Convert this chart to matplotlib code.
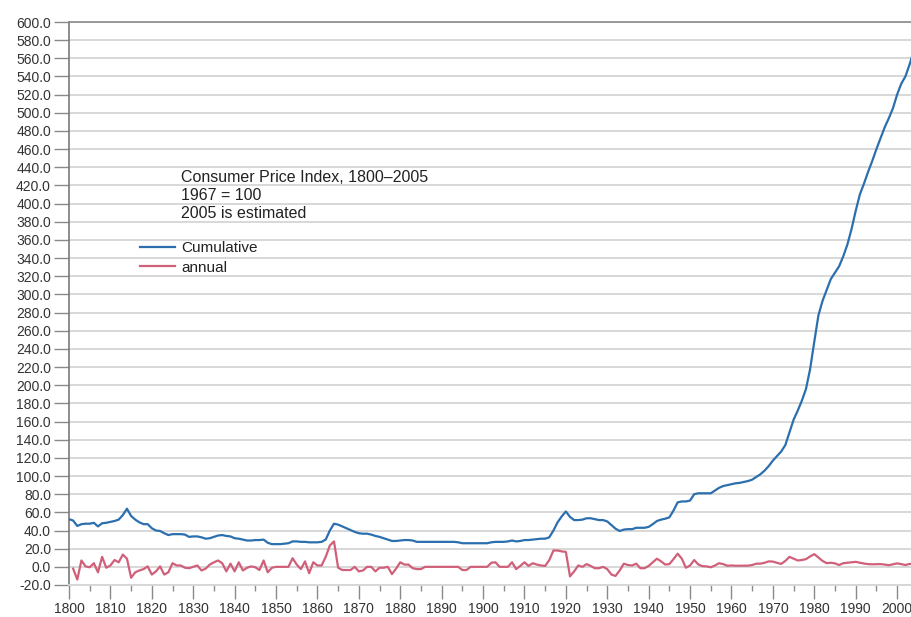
import matplotlib
matplotlib.use("Agg")
import matplotlib.pyplot as plt
from matplotlib.ticker import MultipleLocator, FuncFormatter

plt.rcParams['font.family'] = ['Liberation Sans', 'DejaVu Sans']
plt.rcParams['axes.unicode_minus'] = False

years = list(range(1800, 2006))
cumulative = [
    52.5, 51, 45, 47, 47.5, 47.5, 48.5, 44.5, 48, 48.5,          # 1800-1809
    49.5, 50.5, 52, 57, 64, 56, 52, 49, 47, 47,                  # 1810-1819
    42.5, 40, 39.5, 37, 35, 36, 36, 36, 35.5, 33,                # 1820-1829
    33.5, 33.5, 32.5, 31, 31.5, 33, 34.5, 35, 34, 33.5,          # 1830-1839
    31.5, 31, 30, 29, 29, 29.5, 29.5, 30, 26.5, 25,              # 1840-1849
    25, 25, 25.5, 26, 28, 28, 27.5, 27.5, 27, 27,                # 1850-1859
    27, 27.5, 30, 40, 47.5, 46.5, 44.5, 42.5, 40.5, 38.5,        # 1860-1869
    37, 36.5, 36.5, 35.5, 34, 33, 31.5, 30, 28.5, 28.5,          # 1870-1879
    29, 29.5, 29.5, 29, 27.5, 27.5, 27.5, 27.5, 27.5, 27.5,      # 1880-1889
    27.5, 27.5, 27.5, 27.5, 27, 26, 26, 26, 26, 26,              # 1890-1899
    26, 26, 27, 27.5, 27.5, 27.5, 28, 29, 28, 28.5,              # 1900-1909
    29.5, 29.5, 30, 30.5, 31, 31, 32.5, 40, 49, 55.5,            # 1910-1919
    61, 55, 51.5, 51.5, 52, 53.5, 53.5, 52.5, 51.5, 51.5,        # 1920-1929
    50, 46, 42, 39.5, 41, 41.5, 41.5, 43, 43, 43,                # 1930-1939
    44, 47, 50.5, 52, 53, 54.5, 62, 71, 72, 72,                  # 1940-1949
    73, 80, 81, 81, 81, 81, 84, 87, 89, 90,                      # 1950-1959
    91, 92, 92.5, 93.5, 94.5, 96, 99, 102, 106, 111,             # 1960-1969
    117, 122, 127, 134, 148, 162, 172, 183, 196, 218,            # 1970-1979
    248, 277, 293, 305, 317, 324, 331, 342, 355, 372,            # 1980-1989
    392, 410, 422, 435, 447, 460, 472, 484, 494, 505,            # 1990-1999
    520, 532, 540, 553, 568, 585,                                # 2000-2005
]

annual_years = list(range(1801, 2006))
annual = [
    -2, -14, 7, 0.5, -0.5, 4, -6, 11, -1,                        # 1801-1809
    1.5, 7.5, 5, 13.5, 9, -12, -6, -4, -2.5, 0.5,                # 1810-1819
    -8.5, -5, 0.5, -8.5, -6, 4, 1.5, 1.5, -1, -1.5,              # 1820-1829
    0, 1.5, -4, -2, 2.5, 5, 7, 4, -5, 3.5,                       # 1830-1839
    -5, 5, -4, -1, 0.5, -0.5, -3.5, 7, -6, -1,                   # 1840-1849
    0, 0, 0, 0, 9.5, 2.5, -2.5, 6, -7, 5,                        # 1850-1859
    1.5, 1.5, 11, 23.5, 28, -1, -3.5, -3.5, -3.5, 0,             # 1860-1869
    -5, -4, 0, 0, -5, -1, -1, 0, -8, -2,                         # 1870-1879
    5, 2.5, 2.5, -1.5, -2.5, -2.5, 0, 0, 0, 0,                   # 1880-1889
    0, 0, 0, 0, 0, -3.5, -3.5, 0, 0, 0,                          # 1890-1899
    0, 0, 4.5, 5, 0, 0, 0, 5, -2.5, 1,                           # 1900-1909
    5, 1, 4, 2.5, 1.5, 1, 7.5, 18, 18, 17,                       # 1910-1919
    16.5, -10.5, -5, 1.5, 0, 3, 1, -1.5, -1.5, 0,                # 1920-1929
    -2.5, -8.5, -10, -4, 3.5, 2, 1.5, 3.5, -1.5, -1.5,           # 1930-1939
    1, 5, 9, 6, 2.5, 3, 8.5, 14.5, 9, -1,                        # 1940-1949
    1.5, 7.5, 2.5, 0.8, 0.5, -0.5, 1.5, 4, 3, 1.2,               # 1950-1959
    1.5, 1.2, 1.2, 1.3, 1.3, 2, 3.5, 3.5, 4.5, 6,                # 1960-1969
    5.8, 4.4, 3.2, 6.5, 11, 9, 7, 7.5, 8.5, 11.5,                # 1970-1979
    14, 10.3, 6.5, 4, 4.5, 3.8, 2, 4, 4.5, 5,                    # 1980-1989
    5.5, 4.6, 3.6, 3, 2.8, 2.9, 3, 2.5, 1.8, 2.8,                # 1990-1999
    3.8, 3, 2, 3.2, 3, 3.4,                                      # 2000-2005
]

title_lines = ["Consumer Price Index, 1800–2005", "1967 = 100", "2005 is estimated"]

blue = '#2b6fae'
red = '#d0607a'
text_c = '#333333'

fig = plt.figure(figsize=(9.12, 6.17), dpi=100)
ax = fig.add_axes([69/912, 1 - 585/617, 1 - 69/912, (585 - 22)/617])

ax.plot(years, cumulative, color=blue, lw=1.6, label='Cumulative', solid_joinstyle='round', zorder=3)
ax.plot(annual_years, annual, color=red, lw=1.6, label='annual', solid_joinstyle='round', zorder=3)

ax.set_xlim(1800, 2003.6)
ax.set_ylim(-20, 600)

ax.yaxis.set_major_locator(MultipleLocator(20))
ax.yaxis.set_major_formatter(FuncFormatter(lambda v, p: f"{v:.1f}"))
ax.xaxis.set_major_locator(MultipleLocator(10))
ax.xaxis.set_minor_locator(MultipleLocator(5))
ax.xaxis.set_major_formatter(FuncFormatter(lambda v, p: f"{int(round(v))}"))

ax.grid(axis='y', color='#d6d6d6', lw=1.3, zorder=0)
ax.set_axisbelow(True)

ax.spines['right'].set_visible(False)
ax.spines['left'].set_color('#7a7a7a')
ax.spines['left'].set_linewidth(1.2)
ax.spines['top'].set_color('#8a8a8a')
ax.spines['top'].set_linewidth(1.2)
ax.spines['bottom'].set_color('#d6d6d6')
ax.spines['bottom'].set_linewidth(1.3)

ax.tick_params(axis='y', which='major', length=11, width=1.0, color='#8a8a8a',
               labelsize=10, labelcolor=text_c, pad=2)
ax.tick_params(axis='x', which='major', length=10, width=1.0, color='#8a8a8a',
               labelsize=10, labelcolor=text_c, pad=2)
ax.tick_params(axis='x', which='minor', length=4.5, width=1.0, color='#8a8a8a')

tx = (181 - 69) / (912 - 69)
for line, ypix in zip(title_lines, [177, 195, 213]):
    ax.text(tx, (585 - ypix) / 563, line, transform=ax.transAxes, fontsize=11.5,
            color='#222222', va='center', ha='left')

leg = ax.legend(loc='center left', bbox_to_anchor=((140 - 69) / 843, (585 - 258) / 563),
                frameon=False, fontsize=11, handlelength=2.3, handletextpad=0.4,
                labelspacing=0.35, borderpad=0, borderaxespad=0)
for t in leg.get_texts():
    t.set_color('#222222')

fig.savefig('out.png', dpi=100)
